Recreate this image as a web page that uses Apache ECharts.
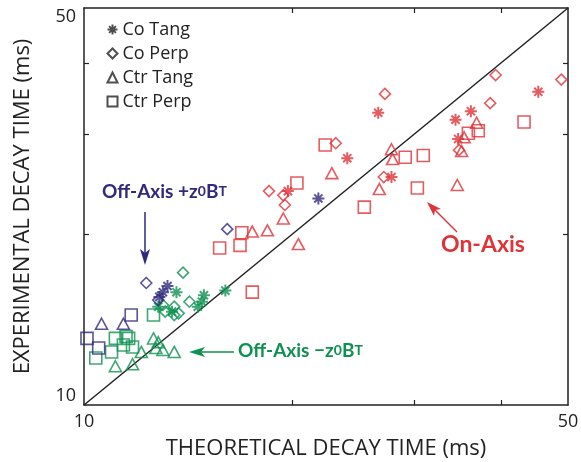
<!DOCTYPE html>
<html>
<head>
<meta charset="utf-8">
<title>Decay time</title>
<script src="https://cdn.jsdelivr.net/npm/echarts@6/dist/echarts.min.js"></script>
<style>
  html, body { margin: 0; padding: 0; background: #fff; }
  #decay-map { width: 581px; height: 462px; }
</style>
</head>
<body>
<div id="decay-map"></div>
<script>
// axis ticks / labels
let axisMin = 10, axisMax = 50;
let tickValues = [20, 30, 40];
let labelValues = [10, 50];

// [theoretical, experimental] in ms
// On-Axis (red)
let redCoTang = [[24.0, 27.2], [19.7, 23.8], [26.6, 32.7], [45.3, 35.6], [36.2, 32.9], [34.4, 31.8], [34.7, 29.4], [27.8, 25.2]];
let redCoPerp = [[23.1, 28.9], [18.5, 23.8], [19.4, 23.4], [19.5, 22.5], [27.2, 35.3], [39.3, 38.1], [48.9, 37.4], [38.6, 34.0], [34.8, 28.1], [27.1, 25.2]];
let redCtrTang = [[22.8, 25.6], [19.4, 21.3], [17.5, 20.2], [18.4, 20.3], [20.4, 19.2], [36.9, 31.4], [35.4, 29.6], [35.1, 28.0], [27.8, 28.2], [27.9, 27.1], [26.7, 24.0], [34.6, 24.4]];
let redCtrPerp = [[22.3, 28.7], [20.3, 24.6], [25.4, 22.3], [16.9, 20.1], [15.7, 18.9], [16.8, 19.1], [17.5, 15.8], [35.9, 30.1], [37.1, 30.4], [43.2, 31.5], [29.1, 27.3], [30.9, 27.5], [30.3, 24.1]];

// Off-Axis +z0BT (blue)
let blueCoTang = [[21.8, 23.1], [13.2, 16.2], [13.0, 15.8], [12.85, 15.5]];
let blueCoPerp = [[16.1, 20.4], [12.3, 16.4], [12.8, 15.3]];
let blueCtrTang = [[10.6, 13.9], [11.4, 13.9]];
let blueCtrPerp = [[11.7, 14.4], [10.1, 13.1], [10.5, 12.6]];

// Off-Axis -z0BT (green)
let greenCoTang = [[13.6, 15.8], [14.9, 15.6], [14.8, 15.2], [14.6, 14.9], [16.0, 15.9], [12.8, 14.9], [13.4, 14.6]];
let greenCoPerp = [[13.9, 17.1], [13.0, 15.0], [13.5, 14.9], [14.2, 15.2], [13.5, 14.4], [13.1, 14.6], [13.7, 14.5]];
let greenCtrTang = [[11.1, 11.7], [11.75, 11.8], [12.1, 12.4], [12.6, 13.1], [12.7, 12.6], [13.0, 12.5], [13.5, 12.4], [12.8, 12.9]];
let greenCtrPerp = [[11.1, 13.1], [11.5, 13.2], [11.6, 13.1], [11.4, 12.75], [11.75, 12.65], [10.96, 12.4], [10.4, 12.1], [12.6, 14.4]];

let red = '#de3338', blue = '#2f2a7c', green = '#0e9150', ink = '#222';
let font = 'Open Sans';
let asterisk = 'path://M5,0L5,10M0,5L10,5M1.6,1.6L8.4,8.4M8.4,1.6L1.6,8.4';

let shapes = {
    'Co Tang': { symbol: asterisk, size: 12, width: 2 },
    'Co Perp': { symbol: 'diamond', size: 11, width: 1.6 },
    'Ctr Tang': { symbol: 'triangle', size: [12, 11], width: 1.6 },
    'Ctr Perp': { symbol: 'rect', size: 12, width: 1.6 }
};

function markers(name, kind, color, data) {
    return {
        name: name,
        type: 'scatter',
        data: data,
        symbol: shapes[kind].symbol,
        symbolSize: shapes[kind].size,
        itemStyle: { color: 'none', borderColor: color, borderWidth: shapes[kind].width },
        emphasis: { disabled: true },
        z: 3
    };
}

// empty series only for the black legend entries
function legendOnly(kind) {
    return {
        name: kind,
        type: 'scatter',
        data: [],
        symbol: shapes[kind].symbol,
        itemStyle: { color: 'none', borderColor: ink, borderWidth: 1.4 }
    };
}

function logAxis(pos, showLabel) {
    return {
        type: 'log',
        logBase: 10,
        position: pos,
        min: axisMin,
        max: axisMax,
        splitLine: { show: false },
        axisLine: { lineStyle: { color: ink, width: 1.5 } },
        axisTick: { inside: true, length: 5, customValues: tickValues, lineStyle: { color: ink, width: 1.2 } },
        axisLabel: {
            show: showLabel, customValues: labelValues, fontSize: 18, color: ink, fontFamily: font, margin: 8,
            verticalAlignMinLabel: pos === 'left' ? 'bottom' : null,
            verticalAlignMaxLabel: pos === 'left' ? 'top' : null
        },
        nameTextStyle: { fontSize: 22, color: ink, fontFamily: font }
    };
}

let myChart = echarts.init(document.getElementById('decay-map'));

let xBottom = logAxis('bottom', true);
xBottom.name = 'THEORETICAL DECAY TIME (ms)';
xBottom.nameLocation = 'middle';
xBottom.nameGap = 33;
let yLeft = logAxis('left', true);
yLeft.name = 'EXPERIMENTAL DECAY TIME (ms)';
yLeft.nameLocation = 'middle';
yLeft.nameGap = 50;

let option = {
    animation: false,
    grid: { left: 84, right: 13, top: 8, bottom: 57, containLabel: false, outerBoundsMode: 'none' },
    legend: {
        data: ['Co Tang', 'Co Perp', 'Ctr Tang', 'Ctr Perp'],
        orient: 'vertical',
        left: 100,
        top: 14,
        itemWidth: 10,
        itemHeight: 10,
        itemGap: 3,
        selectedMode: false,
        textStyle: { fontSize: 18, color: ink, fontFamily: font, lineHeight: 21 }
    },
    xAxis: [xBottom, logAxis('top', false)],
    yAxis: [yLeft, logAxis('right', false)],
    series: [
        {
            type: 'line',
            data: [[axisMin, axisMin], [axisMax, axisMax]],
            symbol: 'none',
            silent: true,
            lineStyle: { color: ink, width: 1.5 },
            z: 2
        },
        legendOnly('Co Tang'), legendOnly('Co Perp'), legendOnly('Ctr Tang'), legendOnly('Ctr Perp'),
        markers('red tang', 'Co Tang', red, redCoTang),
        markers('red perp', 'Co Perp', red, redCoPerp),
        markers('red ctr tang', 'Ctr Tang', red, redCtrTang),
        markers('red ctr perp', 'Ctr Perp', red, redCtrPerp),
        markers('green tang', 'Co Tang', green, greenCoTang),
        markers('green perp', 'Co Perp', green, greenCoPerp),
        markers('green ctr tang', 'Ctr Tang', green, greenCtrTang),
        markers('green ctr perp', 'Ctr Perp', green, greenCtrPerp),
        markers('blue tang', 'Co Tang', blue, blueCoTang),
        markers('blue perp', 'Co Perp', blue, blueCoPerp),
        markers('blue ctr tang', 'Ctr Tang', blue, blueCtrTang),
        markers('blue ctr perp', 'Ctr Perp', blue, blueCtrPerp)
    ],
    // annotations and arrows
    graphic: [
        {
            type: 'text', left: 102, top: 182,
            style: {
                text: '{a|Off-Axis +z}{s|0}{a|B}{s|T}',
                rich: {
                    a: { fill: blue, fontSize: 19, fontWeight: 'bold', fontFamily: 'Lato', lineHeight: 22 },
                    s: { fill: blue, fontSize: 14, fontWeight: 'bold', fontFamily: 'Lato', lineHeight: 8 }
                }
            }
        },
        { type: 'line', shape: { x1: 145, y1: 212, x2: 145, y2: 256 }, style: { stroke: blue, lineWidth: 1.5 } },
        { type: 'polygon', shape: { points: [[145, 265], [140, 249], [145, 253], [150, 249]] }, style: { fill: blue } },
        {
            type: 'text', left: 441, top: 233,
            style: { text: 'On-Axis', fill: red, fontSize: 23, fontWeight: 'bold', fontFamily: 'Lato' }
        },
        { type: 'line', shape: { x1: 457, y1: 232, x2: 434, y2: 209 }, style: { stroke: red, lineWidth: 1.5 } },
        { type: 'polygon', shape: { points: [[427, 202], [441, 209], [435, 210], [434, 216]] }, style: { fill: red } },
        {
            type: 'text', left: 238, top: 341,
            style: {
                text: '{a|Off-Axis \u2212z}{s|0}{a|B}{s|T}',
                rich: {
                    a: { fill: green, fontSize: 19, fontWeight: 'bold', fontFamily: 'Lato', lineHeight: 22 },
                    s: { fill: green, fontSize: 14, fontWeight: 'bold', fontFamily: 'Lato', lineHeight: 8 }
                }
            }
        },
        { type: 'line', shape: { x1: 234, y1: 352, x2: 198, y2: 352 }, style: { stroke: green, lineWidth: 1.5 } },
        { type: 'polygon', shape: { points: [[189, 352], [205, 347], [201, 352], [205, 357]] }, style: { fill: green } }
    ]
};

myChart.setOption(option);
window.addEventListener('resize', function () {
    myChart.resize();
});
</script>
</body>
</html>
